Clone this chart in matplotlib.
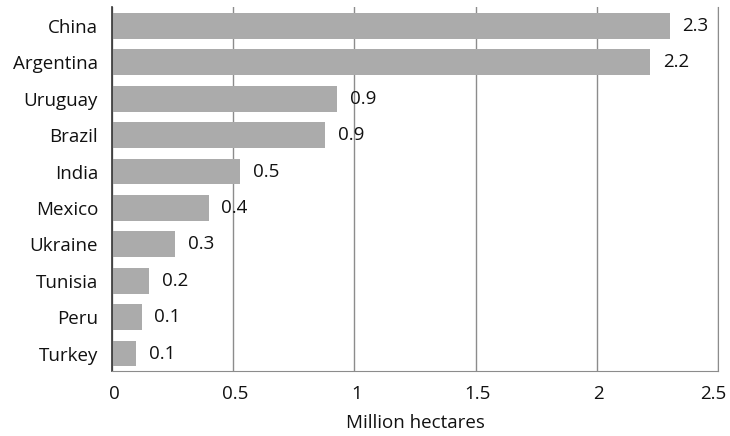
import matplotlib
matplotlib.use("Agg")
import matplotlib.pyplot as plt
import matplotlib.transforms as mtransforms

countries = ["China", "Argentina", "Uruguay", "Brazil", "India",
             "Mexico", "Ukraine", "Tunisia", "Peru", "Turkey"]
hectares = [2.30, 2.22, 0.93, 0.88, 0.53, 0.40, 0.26, 0.154, 0.122, 0.10]
xticks = [0, 0.5, 1, 1.5, 2, 2.5]
xtick_labels = ["0", "0.5", "1", "1.5", "2", "2.5"]

plt.rcParams["font.family"] = ["Open Sans", "DejaVu Sans"]
FS = 13.5
TXT = "#111111"

fig = plt.figure(figsize=(7.3, 4.36), dpi=100)
ax = fig.add_axes([112 / 730, 1 - 371 / 436, (718 - 112) / 730, (371 - 7) / 436])

ypos = list(range(len(countries)))[::-1]
ax.barh(ypos, hectares, height=0.71, color="#ababab", zorder=2)

for y, v in zip(ypos, hectares):
    ax.annotate(f"{v:.1f}", xy=(v, y), xytext=(9, 0), textcoords="offset points",
                va="center", ha="left", fontsize=FS, color=TXT, fontweight="medium")

ax.set_xlim(0, 2.5)
ax.set_ylim(-0.48, 9.52)
ax.set_yticks(ypos)
ax.set_yticklabels(countries, fontsize=FS, color=TXT, fontweight="medium")
ax.set_xticks(xticks)
ax.set_xticklabels(xtick_labels, fontsize=FS, color=TXT, fontweight="medium")
ax.tick_params(axis="both", length=0)
ax.tick_params(axis="y", pad=10)
ax.tick_params(axis="x", pad=10)

# nudge the tick labels slightly right, and keep the last one inside the figure
for i, lbl in enumerate(ax.get_xticklabels()):
    dx = -5 if i == len(xtick_labels) - 1 else 2
    lbl.set_transform(lbl.get_transform() +
                      mtransforms.ScaledTranslation(dx / 100, 0, fig.dpi_scale_trans))

ax.grid(axis="x", color="#8c8c8c", linewidth=1.0, zorder=1)
ax.spines["top"].set_visible(False)
ax.spines["right"].set_color("#8c8c8c")
ax.spines["bottom"].set_color("#8c8c8c")
ax.spines["left"].set_color("#333333")
ax.spines["left"].set_linewidth(1.2)

ax.set_xlabel("Million hectares", fontsize=FS, color=TXT, fontweight="medium", labelpad=8)

fig.savefig("out.png", dpi=100)
